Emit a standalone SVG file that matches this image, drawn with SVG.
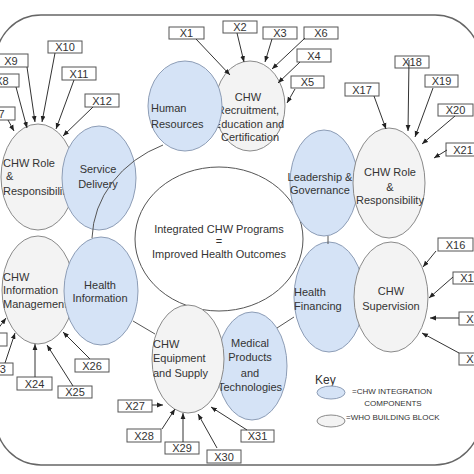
<svg xmlns="http://www.w3.org/2000/svg" width="474" height="474" viewBox="0 0 474 474">
<defs>
<style>
text{font-family:"Liberation Sans",Arial,sans-serif;font-size:11px;fill:#333}
.c{text-anchor:middle}
.blue{fill:#d5e3f6;stroke:#8d9db6;stroke-width:1}
.grey{fill:#f3f3f3;stroke:#8a8a8a;stroke-width:1}
.box{fill:#fff;stroke:#555;stroke-width:1}
.ring{fill:none;stroke:#555;stroke-width:1}
.arr{fill:none;stroke:#333;stroke-width:1;marker-end:url(#ah)}
.key{font-size:8px}
</style>
<marker id="ah" viewBox="0 0 10 10" refX="10" refY="5" markerWidth="6" markerHeight="6" orient="auto" markerUnits="userSpaceOnUse"><path d="M0,1 L10,5 L0,9 z" fill="#222"/></marker>
</defs>
<rect x="-4" y="15" width="484" height="450" rx="45" ry="45" fill="#fff" stroke="#666" stroke-width="1.5"/>

<g id="center"><ellipse cx="219" cy="239" rx="84" ry="72" fill="#fff" stroke="#555"/>
<text class="c" x="219" y="233">Integrated CHW Programs</text><text class="c" x="219" y="245">=</text><text class="c" x="219" y="258">Improved Health Outcomes</text></g>

<g id="chw-role-left"><ellipse class="grey" cx="38" cy="177" rx="37" ry="53"/>
<text x="3" y="167">CHW Role</text><text x="6" y="180">&amp;</text><text x="3" y="195">Responsibility</text></g>
<g id="service-delivery"><ellipse class="blue" cx="99" cy="178" rx="37" ry="52"/>
<text class="c" x="98" y="173">Service</text><text class="c" x="98" y="188">Delivery</text></g>

<g id="chw-info-mgmt"><ellipse class="grey" cx="38" cy="290" rx="36" ry="54"/>
<text x="3" y="281">CHW</text><text x="3" y="294">Information</text><text x="3" y="308">Management</text></g>
<g id="health-information"><ellipse class="blue" cx="101" cy="291" rx="37" ry="54"/>
<text class="c" x="100" y="289">Health</text><text class="c" x="100" y="302">Information</text></g>

<g id="chw-recruitment"><ellipse class="grey" cx="250" cy="106" rx="35" ry="45"/>
<text class="c" x="248" y="101">CHW</text><text class="c" x="248" y="114">Recruitment,</text><text class="c" x="249" y="128">Education and</text><text class="c" x="250" y="141">Certification</text></g>
<g id="human-resources"><ellipse class="blue" cx="185" cy="106" rx="37" ry="45"/>
<text x="151" y="112">Human</text><text x="151" y="128">Resources</text></g>

<g id="leadership"><ellipse class="blue" cx="324" cy="183" rx="34" ry="53"/>
<text class="c" x="320" y="181">Leadership &amp;</text><text class="c" x="320" y="194">Governance</text></g>
<g id="chw-role-right"><ellipse class="grey" cx="389" cy="183" rx="36" ry="55"/>
<text class="c" x="390" y="176">CHW Role</text><text class="c" x="390" y="191">&amp;</text><text class="c" x="390" y="204">Responsibility</text></g>

<g id="health-financing"><ellipse class="blue" cx="329" cy="297" rx="35" ry="55"/>
<text x="294" y="296">Health</text><text x="294" y="310">Financing</text></g>
<g id="chw-supervision"><ellipse class="grey" cx="391" cy="297" rx="37" ry="55"/>
<text class="c" x="391" y="295">CHW</text><text class="c" x="391" y="310">Supervision</text></g>

<g id="medical-products"><ellipse class="blue" cx="252" cy="366" rx="35" ry="54"/>
<text class="c" x="250" y="347">Medical</text><text class="c" x="250" y="361">Products</text><text class="c" x="250" y="377">and</text><text class="c" x="250" y="391">Technologies</text></g>
<g id="chw-equipment"><ellipse class="grey" cx="188" cy="359" rx="36" ry="54"/>
<text x="153" y="348">CHW</text><text x="153" y="362">Equipment</text><text x="153" y="377">and Supply</text></g>

<g id="key"><text x="315" y="384" style="font-size:12px">Key</text>
<ellipse class="blue" cx="331" cy="392.5" rx="14" ry="6.5"/>
<text class="key" x="352" y="394">=CHW INTEGRATION</text><text class="key c" x="393" y="406">COMPONENTS</text>
<ellipse class="grey" cx="331" cy="421" rx="14" ry="6"/>
<text class="key" x="346" y="420">=WHO BUILDING BLOCK</text></g>

<g id="x1"><rect class="box" x="169" y="27" width="35" height="12"/><text class="c" x="186.5" y="37">X1</text></g>
<g id="x2"><rect class="box" x="223" y="21" width="34" height="12"/><text class="c" x="240" y="31">X2</text></g>
<g id="x3"><rect class="box" x="263" y="27" width="34" height="12"/><text class="c" x="280" y="37">X3</text></g>
<g id="x4"><rect class="box" x="297" y="49" width="34" height="13"/><text class="c" x="314" y="60">X4</text></g>
<g id="x5"><rect class="box" x="291" y="76" width="33" height="12"/><text class="c" x="307.5" y="86">X5</text></g>
<g id="x6"><rect class="box" x="304" y="27" width="34" height="12"/><text class="c" x="321" y="37">X6</text></g>
<g id="x7"><rect class="box" x="-19" y="107" width="34" height="13"/><text class="c" x="-2" y="118">X7</text></g>
<g id="x8"><rect class="box" x="-15" y="74" width="34" height="13"/><text class="c" x="2" y="85">X8</text></g>
<g id="x9"><rect class="box" x="-6" y="54" width="34" height="13"/><text class="c" x="11" y="65">X9</text></g>
<g id="x10"><rect class="box" x="48" y="41" width="34" height="12"/><text class="c" x="65" y="51">X10</text></g>
<g id="x11"><rect class="box" x="62" y="67" width="34" height="13"/><text class="c" x="79" y="78">X11</text></g>
<g id="x12"><rect class="box" x="85" y="94" width="34" height="13"/><text class="c" x="102" y="105">X12</text></g>
<g id="x13"><rect class="box" x="459" y="353" width="34" height="12"/><text class="c" x="476" y="363">X13</text></g>
<g id="x14"><rect class="box" x="459" y="312" width="34" height="13"/><text class="c" x="476" y="323">X14</text></g>
<g id="x15"><rect class="box" x="453" y="272" width="34" height="12"/><text class="c" x="470" y="282">X15</text></g>
<g id="x16"><rect class="box" x="438" y="238" width="35" height="13"/><text class="c" x="455.5" y="249">X16</text></g>
<g id="x17"><rect class="box" x="345" y="83" width="34" height="13"/><text class="c" x="362" y="94">X17</text></g>
<g id="x18"><rect class="box" x="395" y="56" width="34" height="12"/><text class="c" x="412" y="66">X18</text></g>
<g id="x19"><rect class="box" x="425" y="75" width="33" height="12"/><text class="c" x="441.5" y="85">X19</text></g>
<g id="x20"><rect class="box" x="438" y="104" width="35" height="12"/><text class="c" x="455.5" y="114">X20</text></g>
<g id="x21"><rect class="box" x="446" y="143" width="34" height="13"/><text class="c" x="463" y="154">X21</text></g>
<g id="x22"><rect class="box" x="-27" y="333" width="34" height="13"/><text class="c" x="-10" y="344">X22</text></g>
<g id="x23"><rect class="box" x="-21" y="363" width="34" height="12"/><text class="c" x="-4" y="373">X23</text></g>
<g id="x24"><rect class="box" x="17" y="377" width="35" height="13"/><text class="c" x="34.5" y="388">X24</text></g>
<g id="x25"><rect class="box" x="58" y="386" width="34" height="12"/><text class="c" x="75" y="396">X25</text></g>
<g id="x26"><rect class="box" x="75" y="359" width="34" height="13"/><text class="c" x="92" y="370">X26</text></g>
<g id="x27"><rect class="box" x="118" y="400" width="34" height="12"/><text class="c" x="135" y="410">X27</text></g>
<g id="x28"><rect class="box" x="127" y="429" width="34" height="13"/><text class="c" x="144" y="440">X28</text></g>
<g id="x29"><rect class="box" x="165" y="442" width="34" height="12"/><text class="c" x="182" y="452">X29</text></g>
<g id="x30"><rect class="box" x="207" y="450" width="34" height="13"/><text class="c" x="224" y="461">X30</text></g>
<g id="x31"><rect class="box" x="241" y="430" width="33" height="12"/><text class="c" x="257.5" y="440">X31</text></g>

<g id="connectors">
<path class="ring" d="M163,145 A119,105 0 0 0 92,238"/>
<path class="ring" d="M328,236 L328,244"/>
<path class="ring" d="M294,317 L277,328"/>
<path class="ring" d="M133,321 L155,334"/>
<path class="arr" d="M196,39 L230,75"/>
<path class="arr" d="M237,33 L244,62"/>
<path class="arr" d="M272,39 L265,62"/>
<path class="arr" d="M305,38 L272,69"/>
<path class="arr" d="M300,62 L278,83"/>
<path class="arr" d="M295,89 L287,103"/>
<path class="arr" d="M8,120 L14,131"/>
<path class="arr" d="M16,87 L27,128"/>
<path class="arr" d="M27,67 L35,122"/>
<path class="arr" d="M55,53 L42,122"/>
<path class="arr" d="M74,80 L56,129"/>
<path class="arr" d="M93,107 L63,136"/>
<path class="arr" d="M374,96 L386,129"/>
<path class="arr" d="M409,60 L408,131"/>
<path class="arr" d="M433,88 L415,137"/>
<path class="arr" d="M455,116 L422,144"/>
<path class="arr" d="M447,150 L434,158"/>
<path class="arr" d="M436,251 L423,267"/>
<path class="arr" d="M453,277 L429,298"/>
<path class="arr" d="M459,318 L430,318"/>
<path class="arr" d="M459,353 L422,333"/>
<path class="arr" d="M-5,333 L6,318"/>
<path class="arr" d="M5,363 L15,333"/>
<path class="arr" d="M35,377 L35,344"/>
<path class="arr" d="M73,386 L47,345"/>
<path class="arr" d="M90,359 L63,332"/>
<path class="arr" d="M152,405 L163,405"/>
<path class="arr" d="M162,429 L175,409"/>
<path class="arr" d="M183,442 L183,413"/>
<path class="arr" d="M217,448 L198,414"/>
<path class="arr" d="M247,430 L211,407"/>
</g>
</svg>
